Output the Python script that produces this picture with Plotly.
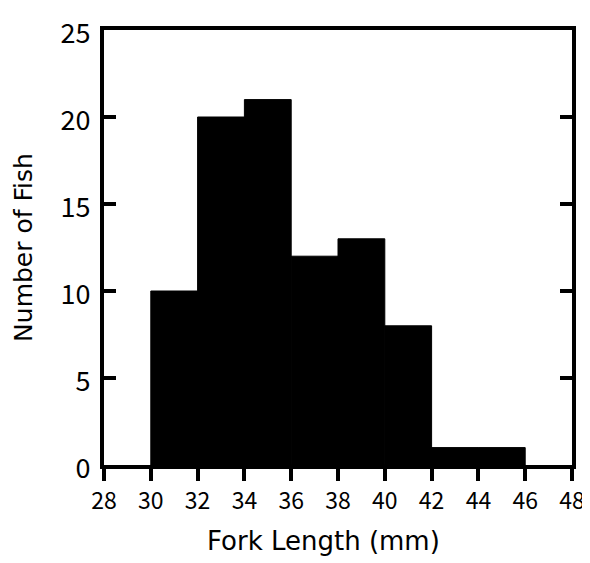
import plotly.graph_objects as go

bin_edges = [30, 32, 34, 36, 38, 40, 42, 44, 46]
counts = [10, 20, 21, 12, 13, 8, 1, 1]
x_ticks = [28, 30, 32, 34, 36, 38, 40, 42, 44, 46, 48]
y_ticks = [0, 5, 10, 15, 20, 25]
x_title = "Fork Length (mm)"
y_title = "Number of Fish"

centers = [(bin_edges[i] + bin_edges[i + 1]) / 2 for i in range(len(counts))]
widths = [bin_edges[i + 1] - bin_edges[i] for i in range(len(counts))]

tick_font = "Noto Sans CJK JP"
title_font = "DejaVu Sans"

fig = go.Figure(go.Bar(
    x=centers, y=counts, width=widths,
    marker=dict(color="black", line=dict(width=1, color="black")),
))

fig.update_layout(
    width=582, height=555,
    margin=dict(l=96, r=18, t=22, b=98, autoexpand=False),
    paper_bgcolor="white", plot_bgcolor="white",
    showlegend=False,
    font=dict(family=tick_font, color="black"),
    xaxis=dict(
        range=[28, 48], tickvals=x_ticks, ticktext=[str(v) for v in x_ticks],
        ticks="outside", ticklen=12, tickwidth=4, tickcolor="black",
        showline=True, linewidth=4, linecolor="black", mirror=True,
        showgrid=False, zeroline=False, automargin=False,
        tickfont=dict(size=23, family=tick_font),
        ticklabelstandoff=0,
    ),
    yaxis=dict(
        range=[0, 25], tickvals=y_ticks,
        ticks="inside", ticklen=12, tickwidth=4, tickcolor="black",
        showline=True, linewidth=4, linecolor="black", mirror="ticks",
        showgrid=False, zeroline=False, automargin=False,
        tickfont=dict(size=27, family=tick_font),
        ticklabelstandoff=4, ticklabelshift=4,
        title=dict(text=y_title, font=dict(size=25, family=title_font), standoff=22),
    ),
    annotations=[dict(
        text=x_title, xref="paper", yref="paper", x=0.468, y=0,
        xanchor="center", yanchor="middle", yshift=-76, showarrow=False,
        font=dict(size=26, family=title_font, color="black"),
    )],
)

fig.write_html("out.html")
